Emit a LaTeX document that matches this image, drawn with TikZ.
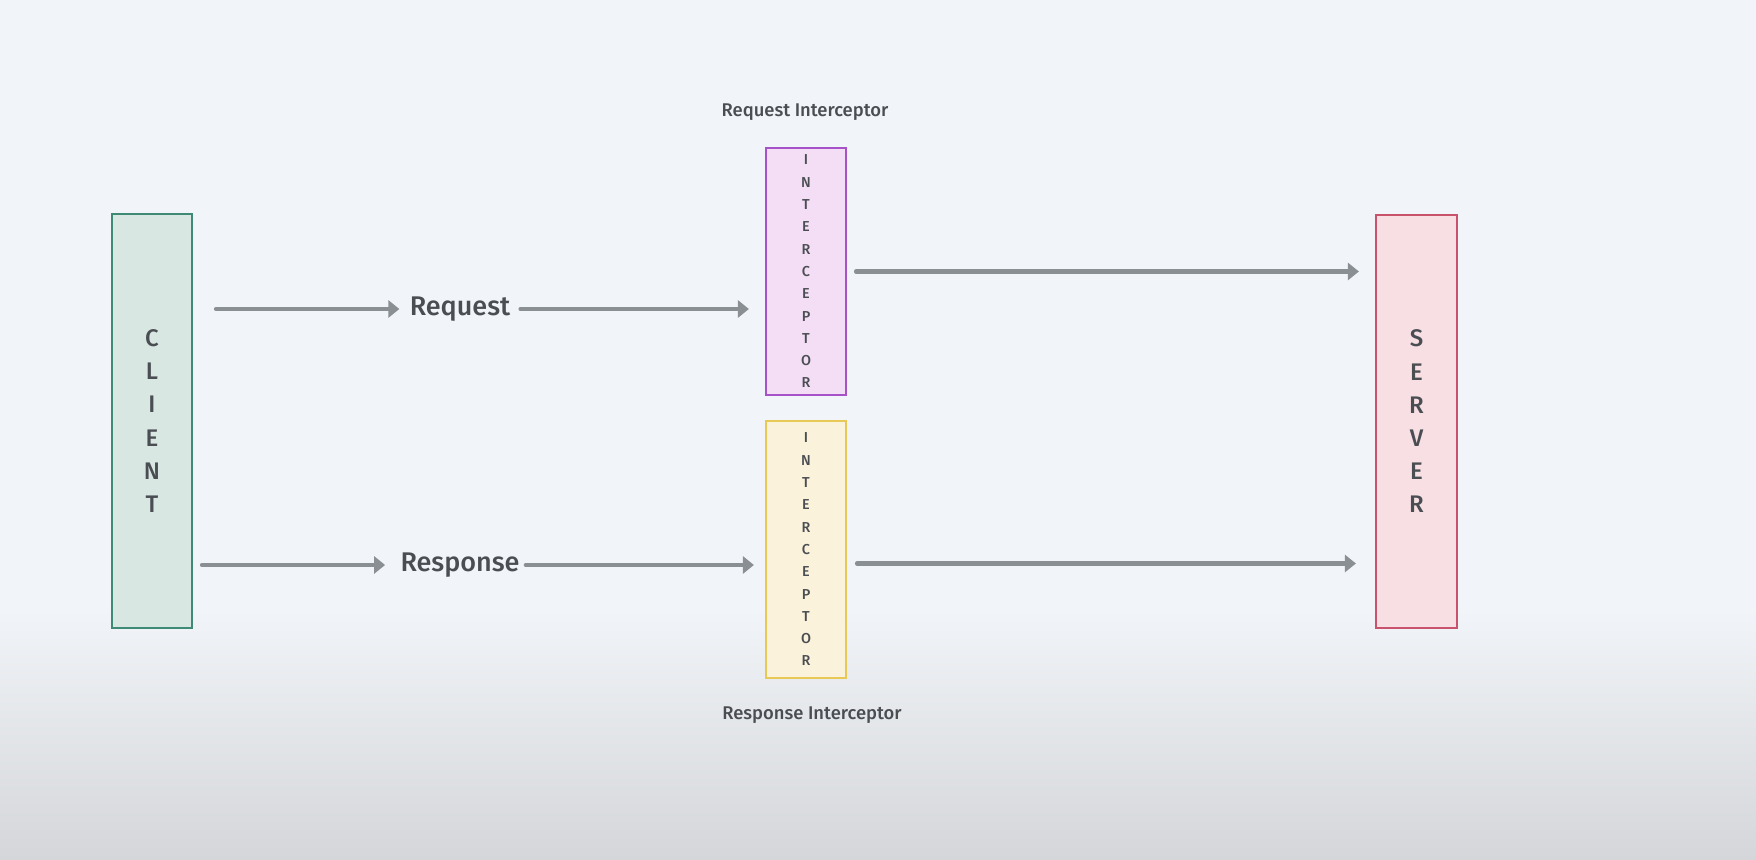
\documentclass[tikz,border=0pt]{standalone}
\usepackage{fontspec}
\setmainfont{Fira Sans}[UprightFont=* Medium]
\usetikzlibrary{arrows.meta}
\definecolor{bg}{HTML}{F1F4F8}
\definecolor{bgbot}{HTML}{D4D6D9}
\definecolor{arrowgray}{HTML}{8A8F94}
\definecolor{txt}{HTML}{4A4D52}
\definecolor{clientfill}{HTML}{D9E7E3}
\definecolor{clientdraw}{HTML}{3F8A74}
\definecolor{reqfill}{HTML}{F3DEF6}
\definecolor{reqdraw}{HTML}{A852C9}
\definecolor{resfill}{HTML}{FBF2DB}
\definecolor{resdraw}{HTML}{E9C955}
\definecolor{srvfill}{HTML}{F7DFE4}
\definecolor{srvdraw}{HTML}{C9536C}
\tikzset{
  box/.style={draw, line width=1.1pt, inner sep=0pt, minimum width=40pt, align=center, text=txt},
  bigletters/.style={font=\fontsize{12}{16.6}\selectfont},
  smallletters/.style={font=\fontsize{7.2}{11.15}\selectfont},
  flowlabel/.style={inner sep=0pt, text=txt, font=\fontsize{13.5}{17}\selectfont},
  title/.style={inner sep=0pt, text=txt, font=\fontsize{9.2}{11}\selectfont},
  arr/.style={draw=arrowgray, line width=2.2pt, line cap=round, -{Triangle[length=5.5pt,width=8.5pt]}}
}
\begin{document}
\begin{tikzpicture}[x=0.5pt,y=-0.5pt]
\useasboundingbox (0,0) rectangle (1756,860);
\fill[bg] (0,0) rectangle (1756,860);
\shade[top color=bg, bottom color=bgbot] (0,610) rectangle (1756,860);

\node[box, bigletters, fill=clientfill, draw=clientdraw, minimum height=207pt] (client) at (152,421) {C\\L\\I\\E\\N\\T};
\node[box, smallletters, fill=reqfill, draw=reqdraw, minimum height=123.5pt] (reqint) at (806,271.5) {I\\N\\T\\E\\R\\C\\E\\P\\T\\O\\R};
\node[box, smallletters, fill=resfill, draw=resdraw, minimum height=128.5pt] (resint) at (806,549.5) {I\\N\\T\\E\\R\\C\\E\\P\\T\\O\\R};
\node[box, bigletters, fill=srvfill, draw=srvdraw, minimum height=206.5pt, minimum width=40.5pt] (server) at (1416.5,421.5) {S\\E\\R\\V\\E\\R};

\node[title] (reqtitle) at (805,112) {Request Interceptor};
\node[title] (restitle) at (812,715) {Response Interceptor};

\node[flowlabel] (reqlbl) at (460,309) {Request};
\node[flowlabel] (reslbl) at (460,565) {Response};

\draw[arr, shorten <=11.5pt, shorten >=5pt] (client.east |- reqlbl.west) -- (reqlbl.west);
\draw[arr, shorten <=5pt, shorten >=8pt] (reqlbl.east) -- (reqlbl.east -| reqint.west);
\draw[arr, shorten <=4.5pt, shorten >=8pt] (reqint.east) -- (reqint.east -| server.west);

\draw[arr, shorten <=4.5pt, shorten >=7.5pt] (client.east |- reslbl.west) -- (reslbl.west);
\draw[arr, shorten <=3pt, shorten >=5.5pt] (reslbl.east) -- (reslbl.east -| resint.west);
\draw[arr, shorten <=5pt, shorten >=9.5pt] ([yshift=-7pt]resint.east) -- ([yshift=-7pt]resint.east -| server.west);
\end{tikzpicture}
\end{document}
